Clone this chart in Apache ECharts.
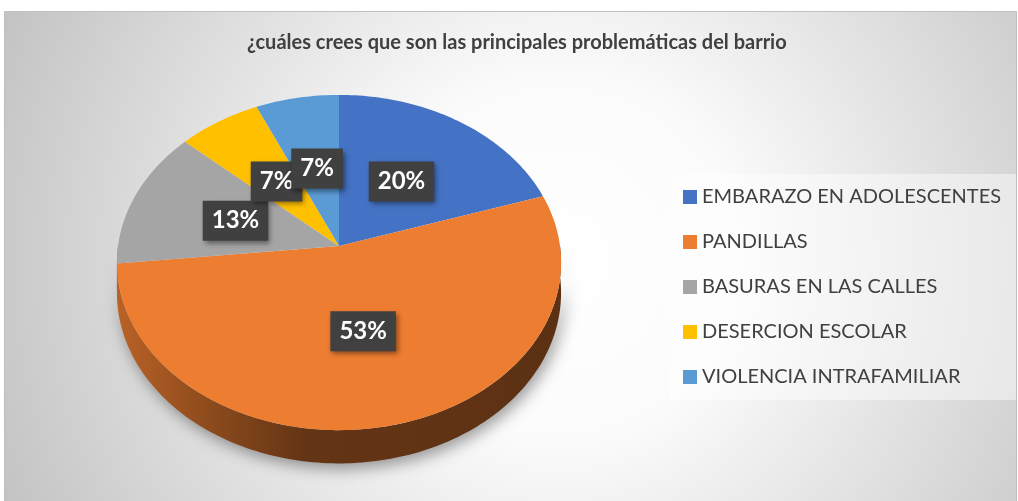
<!DOCTYPE html>
<html>
<head>
<meta charset="utf-8">
<script src="https://cdn.jsdelivr.net/npm/echarts@6/dist/echarts.min.js"></script>
<style>
html, body { margin: 0; padding: 0; background: #fff; }
#main { width: 1018px; height: 501px; }
</style>
</head>
<body>
<div id="main"></div>
<script>
const titleText = '¿cuáles crees que son las principales problemáticas del barrio';
const categories = ['EMBARAZO EN ADOLESCENTES', 'PANDILLAS', 'BASURAS EN LAS CALLES', 'DESERCION ESCOLAR', 'VIOLENCIA INTRAFAMILIAR'];
const counts = [3, 8, 2, 1, 1];
const colors = ['#4472C4', '#ED7D31', '#A5A5A5', '#FFC000', '#5B9BD5'];

// geometry of the tilted pie (excel style 3d)
const CX = 339, CY = 246, RX = 221, RY = 166, PERSP = 0.0985, DEPTH = 30;

const total = counts.reduce((a, b) => a + b, 0);
const starts = [];
let acc = 0;
counts.forEach(v => { starts.push(acc); acc += v; });

function proj(theta, f) {
    const c = Math.cos(theta), s = Math.sin(theta);
    const k = 1 / (1 + PERSP * f * c);
    return [CX + RX * f * s * k, CY - RY * f * c * k];
}

function shade(hex, f) {
    const n = parseInt(hex.slice(1), 16);
    const r = Math.round(((n >> 16) & 255) * f);
    const g = Math.round(((n >> 8) & 255) * f);
    const b = Math.round((n & 255) * f);
    return 'rgb(' + r + ',' + g + ',' + b + ')';
}

function renderSlice(params, api) {
    const i = params.seriesIndex;
    const color = colors[i];
    const val = api.value(0);
    const a0 = starts[i] / total * Math.PI * 2;
    const a1 = (starts[i] + val) / total * Math.PI * 2;
    const children = [];

    // top face
    const top = [[CX, CY]];
    const steps = Math.max(4, Math.ceil((a1 - a0) / 0.02));
    for (let k = 0; k <= steps; k++) top.push(proj(a0 + (a1 - a0) * k / steps, 1));
    children.push({ type: 'polygon', z2: 5, shape: { points: top }, style: { fill: color } });

    // side wall, only the front half shows
    const s0 = Math.max(a0, Math.PI / 2), s1 = Math.min(a1, Math.PI * 1.5);
    if (s1 > s0) {
        const upper = [], lower = [];
        const n = Math.max(4, Math.ceil((s1 - s0) / 0.02));
        for (let k = 0; k <= n; k++) {
            const t = s0 + (s1 - s0) * k / n;
            const p = proj(t, 1);
            const d = DEPTH / (1 + PERSP * Math.cos(t));
            upper.push(p);
            lower.unshift([p[0], p[1] + d]);
        }
        children.push({
            type: 'polygon', z2: 1,
            shape: { points: upper.concat(lower) },
            style: {
                fill: {
                    type: 'linear', x: CX - RX, y: 0, x2: CX + RX, y2: 0, global: true,
                    colorStops: [
                        { offset: 0, color: shade(color, 0.78) },
                        { offset: 0.2, color: shade(color, 0.6) },
                        { offset: 0.42, color: shade(color, 0.42) },
                        { offset: 1, color: shade(color, 0.39) }
                    ]
                },
                shadowBlur: 16, shadowColor: 'rgba(0,0,0,0.4)', shadowOffsetX: 3, shadowOffsetY: 5
            }
        });
    }

    // data label
    const lp = proj((a0 + a1) / 2, 0.5);
    children.push({
        type: 'text', z2: 10, x: lp[0], y: lp[1],
        style: {
            text: Math.round(val / total * 100) + '%',
            fill: '#fff',
            font: 'bold 24px Lato',
            align: 'center', verticalAlign: 'middle',
            backgroundColor: '#404040',
            padding: [8, 9, 8, 9],
            shadowBlur: 5, shadowColor: 'rgba(0,0,0,0.45)', shadowOffsetX: 2, shadowOffsetY: 3
        }
    });
    return { type: 'group', children: children };
}

const option = {
    animation: false,
    color: colors,
    title: {
        text: titleText,
        left: 247, top: 33, padding: 0,
        textStyle: { fontFamily: 'Lato', fontWeight: 'bold', fontSize: 20, color: '#404040' }
    },
    legend: {
        orient: 'vertical',
        left: 670, top: 174,
        icon: 'rect',
        itemWidth: 14, itemHeight: 14,
        itemGap: 21,
        padding: [11, 15, 11, 13],
        backgroundColor: 'rgba(255,255,255,0.45)',
        textStyle: { fontFamily: 'Lato', fontSize: 20, color: '#404040', lineHeight: 24 },
        data: categories
    },
    graphic: [{
        type: 'rect', z: -10, silent: true,
        shape: { x: 4.5, y: 11.5, width: 1012, height: 495 },
        style: {
            fill: {
                type: 'radial', x: 560, y: 260, r: 600, global: true,
                colorStops: [
                    { offset: 0, color: '#ffffff' },
                    { offset: 0.3, color: '#fbfbfb' },
                    { offset: 1, color: '#c4c4c4' }
                ]
            },
            stroke: '#bfbfbf', lineWidth: 1
        }
    }],
    series: categories.map((name, i) => ({
        type: 'custom',
        name: name,
        coordinateSystem: 'none',
        silent: true,
        data: [counts[i]],
        renderItem: renderSlice
    }))
};

echarts.init(document.getElementById('main')).setOption(option);
</script>
</body>
</html>
